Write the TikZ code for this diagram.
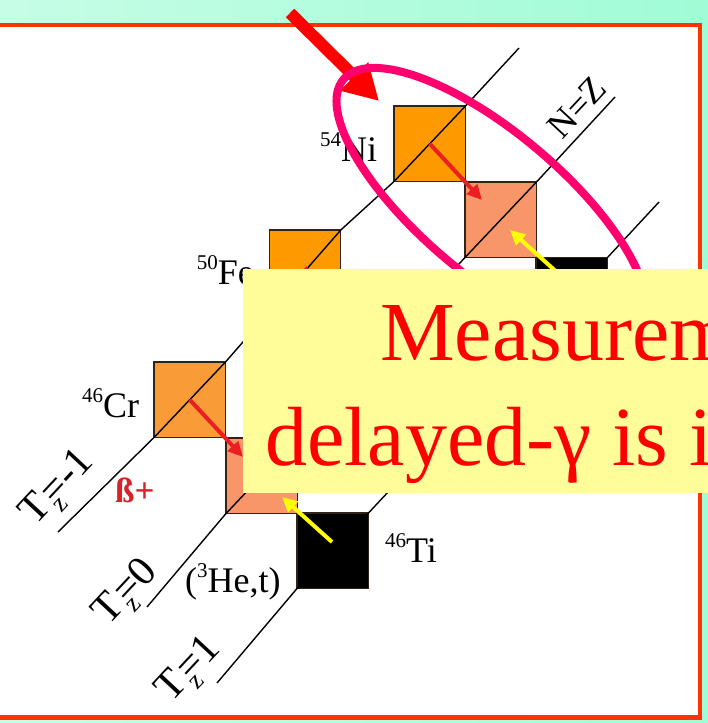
\documentclass[tikz,border=0pt]{standalone}
\usepackage{fontspec}
\setmainfont{Liberation Serif}
\usetikzlibrary{arrows.meta}
\definecolor{mintL}{RGB}{198,253,230}
\definecolor{mintR}{RGB}{160,252,214}
\definecolor{framec}{RGB}{255,51,0}
\definecolor{orA}{RGB}{255,153,0}
\definecolor{orB}{RGB}{249,155,55}
\definecolor{salm}{RGB}{248,150,105}
\definecolor{sqborder}{RGB}{50,35,25}
\definecolor{arrred}{RGB}{235,30,35}
\definecolor{arryel}{RGB}{255,255,0}
\definecolor{ellc}{RGB}{255,0,110}
\definecolor{boxy}{RGB}{255,253,153}
\definecolor{betac}{RGB}{215,35,40}
\newcommand\isolab[2]{\raisebox{14.5pt}{\fontsize{21}{21}\selectfont #1}#2}
\newcommand\tzlab[1]{T\kern2pt\rlap{\raisebox{-10pt}{\fontsize{26}{26}\selectfont z}}\kern1pt=#1}
\begin{document}
\begin{tikzpicture}[x=1pt,y=-1pt,
  nuc/.style={draw=sqborder, line width=1.2pt, minimum width=71.5pt, minimum height=75.5pt, inner sep=0pt, outer sep=0pt, anchor=north west},
  diag/.style={draw=black, line width=1.4pt},
  redarr/.style={draw=arrred, line width=4pt, -{Triangle[length=15pt,width=14pt]}},
  yelarr/.style={draw=arryel, line width=4pt, -{Triangle[length=15pt,width=14pt]}},
  lab/.style={font=\fontsize{36}{36}\selectfont, inner sep=0pt, anchor=base west},
  rotlab/.style={font=\fontsize{36}{36}\selectfont, inner sep=0pt, rotate=47},
  tzl/.style={font=\fontsize{42}{42}\selectfont, inner sep=0pt, rotate=47},
  big/.style={font=\fontsize{84}{84}\selectfont, text=red, inner sep=0pt, anchor=base west}]
\useasboundingbox (0,0) rectangle (708,723);
\shade[left color=mintL, right color=mintR] (0,0) rectangle (708,723);
\draw[framec, line width=4.5pt, fill=white] (-10,25) rectangle (700,717.5);
% nuclei
\node[nuc, fill=orA] (Ni) at (394,106) {};
\node[nuc, fill=salm] (Co) at (465,182) {};
\node[nuc, fill=black] (FeB) at (536,257.5) {};
\node[nuc, fill=orA] (Fe) at (269.3,230) {};
\node[nuc, fill=orB] (Cr) at (154,362) {};
\node[nuc, fill=salm] (V) at (226,438) {};
\node[nuc, fill=black] (Ti) at (297,513) {};
% isospin lines
\coordinate (l1lo) at (58,532);  \coordinate (l1hi) at (519,48);
\coordinate (l2lo) at (147,607); \coordinate (l2hi) at (615,97);
\coordinate (l3lo) at (217,683); \coordinate (l3hi) at (659,202);
\draw[diag] (l1lo) -- (Cr.south west) -- (Cr.north east) -- (Fe.north east) -- (Ni.south west) -- (Ni.north east) -- (l1hi);
\draw[diag] (l2lo) -- (V.south west) -- (V.north east) -- (Co.south west) -- (Co.north east) -- (l2hi);
\draw[diag] (l3lo) -- (Ti.south west) -- (Ti.north east) -- (FeB.south west) -- (FeB.north east) -- (l3hi);
% decay arrows
\coordinate (niT) at (482,200);
\coordinate (feT) at (357,324);
\coordinate (crT) at (243,457);
\draw[redarr] (Ni.center) -- (niT);
\draw[redarr] (Fe.center) -- (feT);
\draw[redarr] (Cr.center) -- (crT);
\coordinate (y1s) at (332,542); \coordinate (y1t) at (282,497);
\coordinate (y2s) at (560,275); \coordinate (y2t) at (510,230);
\draw[yelarr] (y1s) -- (y1t);
\draw[yelarr] (y2s) -- (y2t);
% labels
\node[lab] (lNi) at (320,161) {\isolab{54}{Ni}};
\node[lab] (lFe) at (196.7,284) {\isolab{50}{Fe}};
\node[lab] (lCr) at (82,417.3) {\isolab{46}{Cr}};
\node[lab] (lTi) at (385,562) {\isolab{46}{Ti}};
\node[lab] (lHe) at (185,592) {(\raisebox{14.5pt}{\fontsize{21}{21}\selectfont 3}He,t)};
\node[font=\fontsize{35}{35}\selectfont\bfseries, text=betac, inner sep=0pt, anchor=base west] (lbeta) at (115,502) {ß+};
\node[tzl] (tzm1) at (59,489) {\tzlab{-1}};
\node[tzl] (tz0) at (127,594) {\tzlab{0}};
\node[tzl] (tz1) at (190,671) {\tzlab{1}};
\node[rotlab] (nz) at (577,107) {N=Z};
% big arrow
\coordinate (bigS) at (290,13);
\coordinate (bigT) at (379,101);
\draw[red, line width=12pt, -{Triangle[length=35pt,width=37.5pt]}] (bigS) -- (bigT);
% ellipse
\coordinate (ec) at (491.5,204);
\draw[ellc, line width=8pt, rotate around={-40.1:(ec)}] (ec) ellipse [x radius=193.5pt, y radius=71.3pt];
% yellow box
\fill[boxy] (243,269) rectangle (708,493);
\begin{scope}
\clip (243,269) rectangle (708,493);
\node[big] (t1) at (380,360) {Measurem};
\node[big] (t2) at (265,465) {delayed-γ is i};
\end{scope}
\end{tikzpicture}
\end{document}
